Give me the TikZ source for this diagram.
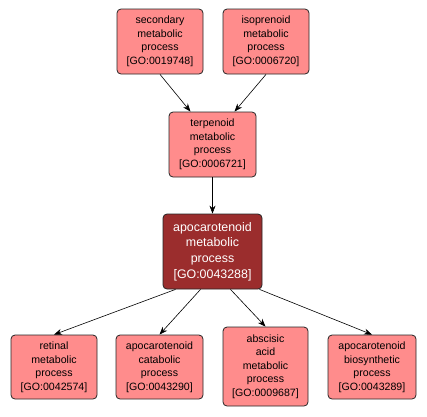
\documentclass[tikz,border=0pt]{standalone}
\usepackage{fontspec}
\setmainfont{Liberation Sans}
\usetikzlibrary{arrows.meta}
\definecolor{lightbox}{HTML}{FF8C8C}
\definecolor{darkbox}{HTML}{9B2D2D}
\tikzset{
  term/.style={draw=black!85, line width=0.8pt, rounded corners=4pt, fill=lightbox,
    align=center, inner sep=0pt, font=\fontsize{10.6}{13.5}\selectfont},
  focus/.style={term, fill=darkbox, text=white, font=\fontsize{12.4}{15.8}\selectfont},
  link/.style={-{Stealth[length=8pt,width=6pt]}, line width=0.6pt, black}
}
\begin{document}
\begin{tikzpicture}[x=1pt,y=-1pt]
\useasboundingbox (0,0) rectangle (427,416);
\node[term, minimum width=86pt, minimum height=65pt] (sec) at (160,41.5) {secondary\\metabolic\\process\\{[GO:0019748]}};
\node[term, minimum width=86pt, minimum height=65pt] (iso) at (266,41.5) {isoprenoid\\metabolic\\process\\{[GO:0006720]}};
\node[term, minimum width=87pt, minimum height=65pt] (ter) at (212.5,144.5) {terpenoid\\metabolic\\process\\{[GO:0006721]}};
\node[focus, minimum width=99pt, minimum height=75pt] (apo) at (212.5,251.5) {apocarotenoid\\metabolic\\process\\{[GO:0043288]}};
\node[term, minimum width=86pt, minimum height=64pt] (ret) at (54,367) {retinal\\metabolic\\process\\{[GO:0042574]}};
\node[term, minimum width=87pt, minimum height=64pt] (cat) at (159.5,367) {apocarotenoid\\catabolic\\process\\{[GO:0043290]}};
\node[term, minimum width=85pt, minimum height=79pt] (abs) at (265.5,366.5) {abscisic\\acid\\metabolic\\process\\{[GO:0009687]}};
\node[term, minimum width=88pt, minimum height=64pt] (bio) at (372,367) {apocarotenoid\\biosynthetic\\process\\{[GO:0043289]}};
\draw[link] (sec.south) -- ([xshift=-22pt]ter.north);
\draw[link] (iso.south) -- ([xshift=22pt]ter.north);
\draw[link] (ter.south) -- (apo.north);
\draw[link] ([xshift=-37pt]apo.south) -- (ret.north);
\draw[link] ([xshift=-12pt]apo.south) -- (cat.north);
\draw[link] ([xshift=18pt]apo.south) -- (abs.north);
\draw[link] ([xshift=47pt]apo.south) -- (bio.north);
\end{tikzpicture}
\end{document}
